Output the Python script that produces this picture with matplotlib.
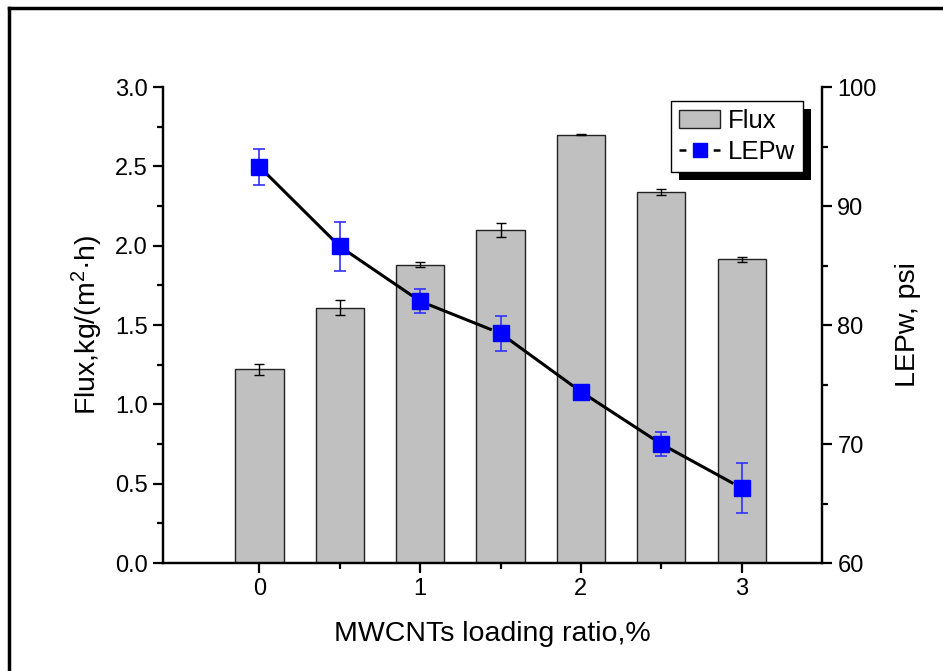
import matplotlib.pyplot as plt
import numpy as np
from matplotlib.lines import Line2D
from matplotlib.patches import Patch

plt.rcParams['font.family'] = ['Liberation Sans', 'DejaVu Sans']
plt.rcParams['mathtext.default'] = 'regular'
plt.rcParams['lines.scale_dashes'] = False

# data
loading = [0, 0.5, 1, 1.5, 2, 2.5, 3]
flux = [1.22, 1.61, 1.88, 2.10, 2.70, 2.34, 1.915]
flux_err = [0.035, 0.045, 0.015, 0.045, 0.005, 0.02, 0.015]
lepw = [93.3, 86.6, 82.0, 79.3, 74.4, 70.0, 66.3]
lepw_err = [1.5, 2.1, 1.0, 1.5, 0.3, 1.0, 2.1]

fig = plt.figure(figsize=(9.43, 6.71), dpi=100)
ax = fig.add_axes([0.1729, 0.1609, 0.6988, 0.7094])
ax2 = ax.twinx()

ax.bar(loading, flux, width=0.3, color='#c0c0c0', edgecolor='#222222', linewidth=1.0, zorder=2)
ax.errorbar(loading, flux, yerr=flux_err, fmt='none', ecolor='black', elinewidth=1,
            capsize=3.5, capthick=1, zorder=3)

ax.set_xlim(-0.6, 3.5)
ax.set_ylim(0, 3.0)
ax2.set_ylim(60, 100)
ax.set_xticks([0, 1, 2, 3])
ax.set_xticks([0.5, 1.5, 2.5], minor=True)
ax.set_yticks(np.arange(0, 3.01, 0.5))
ax.set_yticks(np.arange(0.25, 3.0, 0.5), minor=True)
ax.yaxis.set_major_formatter(plt.FormatStrFormatter('%.1f'))
ax2.set_yticks([60, 70, 80, 90, 100])
ax2.set_yticks([65, 75, 85, 95], minor=True)

for a in (ax, ax2):
    a.spines['top'].set_visible(False)
    for s in a.spines.values():
        s.set_linewidth(1.6)
    a.tick_params(which='major', direction='out', length=7, width=1.6, labelsize=17, pad=4)
    a.tick_params(which='minor', direction='out', length=4, width=1.6)

ax.set_xlabel('MWCNTs loading ratio,%', fontsize=20.5, labelpad=15)
ax.set_ylabel('Flux,kg/(m$^{2}$·h)', fontsize=20.5, labelpad=7)
ax2.set_ylabel('LEPw, psi', fontsize=20.5, labelpad=13)

# LEPw line with small gaps around the markers
fig.canvas.draw()
pts = ax2.transData.transform(np.column_stack([loading, lepw]))
gap = 11
for p0, p1 in zip(pts[:-1], pts[1:]):
    d = p1 - p0
    u = d / np.hypot(*d)
    a0, a1 = p0 + u * gap, p1 - u * gap
    ax2.add_line(Line2D([a0[0], a1[0]], [a0[1], a1[1]], transform=None,
                        color='black', linewidth=2.2, zorder=4))
ax2.errorbar(loading, lepw, yerr=lepw_err, fmt='none', ecolor='#3030ff', elinewidth=1.2,
             capsize=4.5, capthick=1.2, zorder=5)
ax2.plot(loading, lepw, linestyle='none', marker='s', markersize=11,
         markerfacecolor='#0000ff', markeredgecolor='#0000ff', zorder=6)

leg_fs = 18.5
hl = 1.6
handles = [Patch(facecolor='#c0c0c0', edgecolor='#222222', linewidth=1),
           Line2D([], [], color='black', linewidth=1.8, marker='s', markersize=10,
                  dashes=(5, hl * leg_fs - 10),
                  markerfacecolor='#0000ff', markeredgecolor='#0000ff')]
leg = ax2.legend(handles, ['Flux', 'LEPw'], loc='upper right',
                 bbox_to_anchor=(0.971, 0.971), fontsize=leg_fs, frameon=True, fancybox=False,
                 edgecolor='black', framealpha=1, handlelength=hl, handletextpad=0.3,
                 borderpad=0.3, labelspacing=0.3, borderaxespad=0)
leg.get_frame().set_linewidth(1.0)
leg.set_zorder(10)

# black drop shadow behind the legend box
fig.canvas.draw()
bb = leg.get_window_extent()
fw, fh = fig.bbox.width, fig.bbox.height
shadow = plt.Rectangle(((bb.x0 + 8) / fw, (bb.y0 - 8) / fh), bb.width / fw, bb.height / fh,
                       transform=fig.transFigure, facecolor='black', edgecolor='none', zorder=9)
ax2.add_artist(shadow)

# outer frame (left and top edges visible)
fig.add_artist(Line2D([9 / fw, 9 / fw], [-0.1, 1 - 8 / fh], transform=fig.transFigure,
                      color='black', linewidth=2.5))
fig.add_artist(Line2D([9 / fw, 1.1], [1 - 8 / fh, 1 - 8 / fh], transform=fig.transFigure,
                      color='black', linewidth=2.5))

fig.savefig('out.png', dpi=100)
